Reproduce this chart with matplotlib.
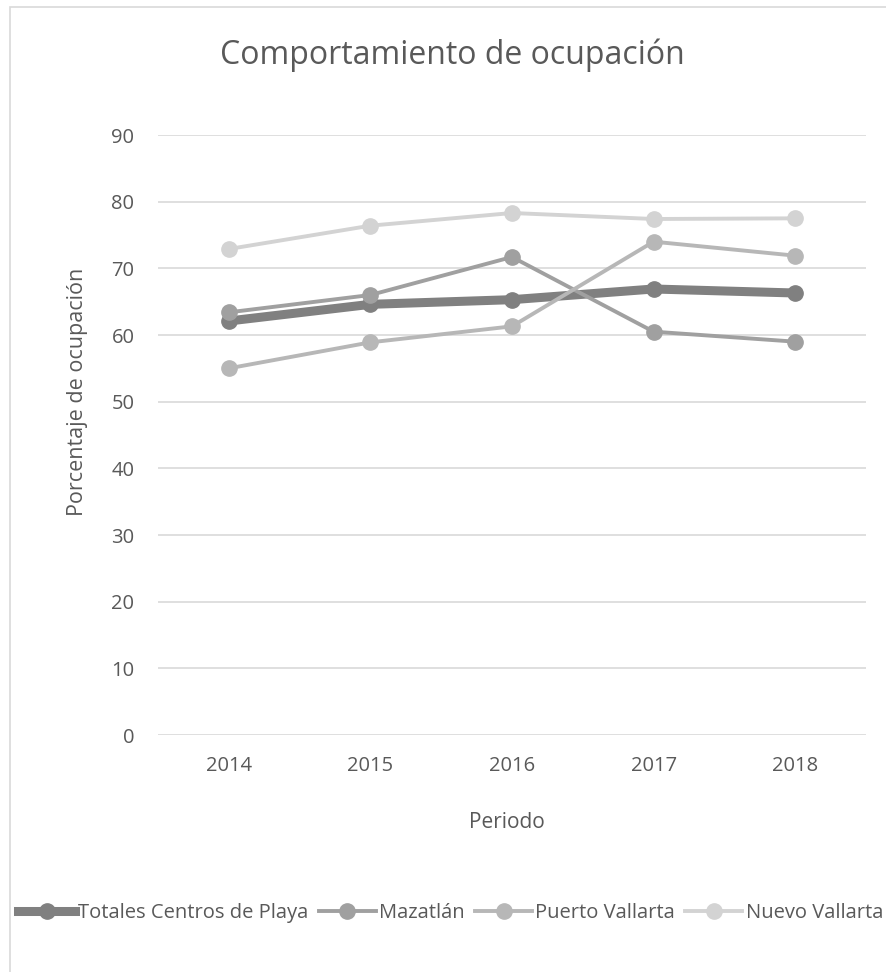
import numpy as np
import matplotlib.pyplot as plt
from matplotlib.patches import Rectangle

plt.rcParams['font.family'] = ['Open Sans', 'DejaVu Sans']

years = ['2014', '2015', '2016', '2017', '2018']
totales = [62.1, 64.6, 65.3, 66.9, 66.3]
mazatlan = [63.4, 66.0, 71.7, 60.5, 59.0]
puerto_vallarta = [55.0, 58.9, 61.3, 74.0, 71.9]
nuevo_vallarta = [72.9, 76.4, 78.3, 77.4, 77.5]

W, H = 886, 972
fig = plt.figure(figsize=(W/100, H/100), dpi=100)
ax = fig.add_axes([158/W, 1-735/H, (866-158)/W, (735-135)/H])

# chart border like the excel frame
fig.patches.append(Rectangle((10/W, -0.1), 1.1, 1-7/H+0.1, transform=fig.transFigure,
                             fill=False, edgecolor='#d9d9d9', linewidth=1.2))

x = np.arange(len(years))
txt = '#595959'
ax.plot(x, totales, '-o', color='#808080', lw=6.5, ms=11, label='Totales Centros de Playa', zorder=3)
ax.plot(x, mazatlan, '-o', color='#a0a0a0', lw=2.8, ms=11, label='Mazatlán', zorder=4)
ax.plot(x, puerto_vallarta, '-o', color='#b7b7b7', lw=2.8, ms=11, label='Puerto Vallarta', zorder=4)
ax.plot(x, nuevo_vallarta, '-o', color='#d3d3d3', lw=2.8, ms=11, label='Nuevo Vallarta', zorder=4)

ax.set_xlim(-0.5, 4.5)
ax.set_ylim(0, 90)
ax.set_yticks(range(0, 91, 10))
ax.set_xticks(x)
ax.set_xticklabels(years)
ax.grid(axis='y', color='#d9d9d9', lw=1.2)
ax.set_axisbelow(True)
for s in ax.spines.values():
    s.set_visible(False)
ax.tick_params(length=0, labelsize=14.5, colors=txt)
ax.tick_params(axis='x', pad=15)
ax.tick_params(axis='y', pad=17)

fig.text(507/W, 1-823/H, 'Periodo', ha='center', va='center', fontsize=15, color=txt)
fig.text(77/W, 1-392/H, 'Porcentaje de ocupación', ha='center', va='center',
         rotation=90, fontsize=15.5, color=txt)

fig.text(452/W, 1-55/H, 'Comportamiento de ocupación', ha='center', va='center',
         fontsize=23, color=txt)

fig.legend(loc='center left', bbox_to_anchor=(18/W, 1-913/H), ncol=4, frameon=False,
           fontsize=14.5, labelcolor=txt, handlelength=2.85, handletextpad=0.15,
           columnspacing=0.5, borderpad=0, borderaxespad=0)

fig.savefig('out.png', dpi=100, facecolor='white')
